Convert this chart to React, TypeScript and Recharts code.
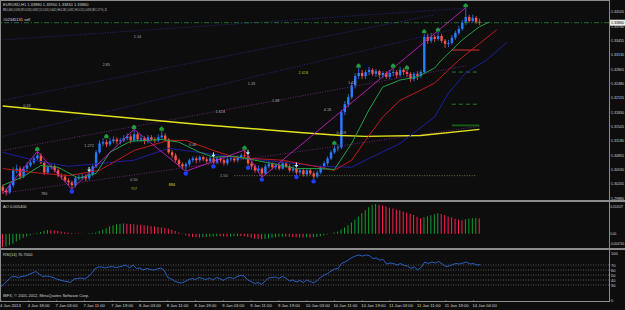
import React from 'react';
import { ComposedChart, Bar, Line, XAxis, YAxis, ReferenceLine, ReferenceDot, Cell } from 'recharts';

// ---------- data ----------
const FIRST_OPEN = 1.3014;
const CLOSE = [
  1.3005, 1.3001, 1.3017, 1.3051, 1.3055, 1.3037, 1.3055, 1.3062, 1.3069, 1.3078,
  1.3085, 1.3069, 1.3046, 1.3058, 1.3060, 1.3051, 1.3039, 1.3037, 1.3028, 1.3024,
  1.3017, 1.3033, 1.3035, 1.3037, 1.3033, 1.3042, 1.3060, 1.3092, 1.3112, 1.3115,
  1.3110, 1.3117, 1.3121, 1.3117, 1.3119, 1.3124, 1.3128, 1.3119, 1.3133, 1.3121,
  1.3124, 1.3117, 1.3126, 1.3121, 1.3119, 1.3126, 1.3130, 1.3121, 1.3092, 1.3085,
  1.3074, 1.3065, 1.3060, 1.3065, 1.3074, 1.3078, 1.3074, 1.3081, 1.3076, 1.3072,
  1.3078, 1.3069, 1.3078, 1.3074, 1.3067, 1.3076, 1.3078, 1.3074, 1.3081, 1.3085,
  1.3083, 1.3067, 1.3060, 1.3051, 1.3055, 1.3044, 1.3060, 1.3065, 1.3058, 1.3062,
  1.3055, 1.3067, 1.3060, 1.3051, 1.3055, 1.3046, 1.3051, 1.3042, 1.3051, 1.3044,
  1.3037, 1.3046, 1.3058, 1.3067, 1.3078, 1.3092, 1.3101, 1.3103, 1.3183, 1.3201,
  1.3217, 1.3244, 1.3265, 1.3272, 1.3265, 1.3274, 1.3279, 1.3270, 1.3276, 1.3267,
  1.3272, 1.3263, 1.3272, 1.3274, 1.3267, 1.3279, 1.3274, 1.3270, 1.3258, 1.3270,
  1.3265, 1.3274, 1.3354, 1.3345, 1.3354, 1.3349, 1.3356, 1.3345, 1.3338, 1.3340,
  1.3352, 1.3363, 1.3372, 1.3386, 1.3399, 1.3390, 1.3397, 1.3388, 1.3386,
];
const HIGH = [
  1.3019, 1.3010, 1.3021, 1.3058, 1.3064, 1.3060, 1.3060, 1.3069, 1.3074, 1.3083,
  1.3094, 1.3090, 1.3072, 1.3063, 1.3067, 1.3065, 1.3056, 1.3044, 1.3042, 1.3033,
  1.3028, 1.3037, 1.3042, 1.3044, 1.3042, 1.3049, 1.3065, 1.3097, 1.3119, 1.3124,
  1.3121, 1.3124, 1.3128, 1.3126, 1.3124, 1.3131, 1.3135, 1.3133, 1.3144, 1.3137,
  1.3131, 1.3128, 1.3131, 1.3131, 1.3126, 1.3133, 1.3140, 1.3135, 1.3124, 1.3097,
  1.3090, 1.3078, 1.3069, 1.3069, 1.3078, 1.3083, 1.3083, 1.3085, 1.3085, 1.3081,
  1.3083, 1.3081, 1.3083, 1.3081, 1.3078, 1.3081, 1.3083, 1.3083, 1.3085, 1.3090,
  1.3097, 1.3088, 1.3072, 1.3065, 1.3062, 1.3058, 1.3065, 1.3072, 1.3069, 1.3067,
  1.3067, 1.3072, 1.3072, 1.3065, 1.3062, 1.3058, 1.3056, 1.3056, 1.3056, 1.3055,
  1.3049, 1.3051, 1.3062, 1.3072, 1.3083, 1.3097, 1.3108, 1.3110, 1.3188, 1.3208,
  1.3224, 1.3251, 1.3272, 1.3283, 1.3279, 1.3279, 1.3286, 1.3283, 1.3281, 1.3279,
  1.3276, 1.3276, 1.3279, 1.3283, 1.3279, 1.3286, 1.3283, 1.3279, 1.3274, 1.3274,
  1.3276, 1.3279, 1.3361, 1.3361, 1.3363, 1.3358, 1.3365, 1.3361, 1.3349, 1.3347,
  1.3358, 1.3368, 1.3379, 1.3392, 1.3420, 1.3404, 1.3404, 1.3401, 1.3395,
];
const LOW = [
  1.2998, 1.2994, 1.2997, 1.3012, 1.3044, 1.3030, 1.3033, 1.3049, 1.3058, 1.3065,
  1.3074, 1.3065, 1.3040, 1.3042, 1.3053, 1.3046, 1.3035, 1.3030, 1.3024, 1.3017,
  1.3008, 1.3012, 1.3028, 1.3030, 1.3026, 1.3028, 1.3037, 1.3056, 1.3088, 1.3106,
  1.3104, 1.3106, 1.3112, 1.3110, 1.3110, 1.3115, 1.3119, 1.3112, 1.3115, 1.3117,
  1.3115, 1.3110, 1.3112, 1.3117, 1.3112, 1.3115, 1.3121, 1.3117, 1.3088, 1.3078,
  1.3069, 1.3058, 1.3053, 1.3049, 1.3060, 1.3069, 1.3067, 1.3069, 1.3072, 1.3067,
  1.3067, 1.3065, 1.3065, 1.3069, 1.3062, 1.3062, 1.3072, 1.3069, 1.3069, 1.3076,
  1.3078, 1.3062, 1.3053, 1.3046, 1.3046, 1.3035, 1.3040, 1.3056, 1.3053, 1.3053,
  1.3051, 1.3053, 1.3056, 1.3046, 1.3046, 1.3040, 1.3042, 1.3037, 1.3037, 1.3040,
  1.3031, 1.3033, 1.3042, 1.3053, 1.3062, 1.3074, 1.3088, 1.3094, 1.3099, 1.3176,
  1.3194, 1.3212, 1.3237, 1.3258, 1.3258, 1.3258, 1.3267, 1.3265, 1.3263, 1.3260,
  1.3260, 1.3258, 1.3258, 1.3265, 1.3260, 1.3263, 1.3267, 1.3263, 1.3251, 1.3253,
  1.3256, 1.3260, 1.3270, 1.3338, 1.3340, 1.3342, 1.3345, 1.3340, 1.3329, 1.3331,
  1.3336, 1.3347, 1.3358, 1.3368, 1.3381, 1.3386, 1.3386, 1.3383, 1.3381,
];
const AO = [
  -0.0047, -0.0046, -0.0041, -0.0036, -0.0028, -0.0021, -0.0015, -0.0010, -0.0006, -0.0002,
  0.0002, 0.0006, 0.0010, 0.0013, 0.0012, 0.0011, 0.0009, 0.0007, 0.0005, 0.0004,
  0.0002, 0.0001, 0.0001, -0.0001, 0.0000, 0.0001, 0.0002, 0.0004, 0.0009, 0.0014,
  0.0019, 0.0025, 0.0030, 0.0033, 0.0035, 0.0036, 0.0035, 0.0034, 0.0033, 0.0032,
  0.0031, 0.0030, 0.0029, 0.0027, 0.0025, 0.0024, 0.0022, 0.0021, 0.0018, 0.0014,
  0.0009, 0.0004, -0.0002, -0.0006, -0.0010, -0.0012, -0.0013, -0.0014, -0.0013, -0.0012,
  -0.0011, -0.0010, -0.0009, -0.0009, -0.0010, -0.0011, -0.0010, -0.0009, -0.0008, -0.0008,
  -0.0009, -0.0012, -0.0015, -0.0018, -0.0019, -0.0020, -0.0019, -0.0017, -0.0015, -0.0013,
  -0.0011, -0.0010, -0.0010, -0.0011, -0.0012, -0.0013, -0.0014, -0.0014, -0.0013, -0.0014,
  -0.0013, -0.0012, -0.0009, -0.0006, -0.0003, 0.0000, 0.0004, 0.0008, 0.0015, 0.0022,
  0.0030, 0.0040, 0.0050, 0.0061, 0.0072, 0.0083, 0.0094, 0.0103, 0.0105, 0.0102,
  0.0099, 0.0096, 0.0092, 0.0089, 0.0086, 0.0083, 0.0079, 0.0075, 0.0071, 0.0066,
  0.0060, 0.0055, 0.0058, 0.0062, 0.0065, 0.0069, 0.0072, 0.0070, 0.0066, 0.0061,
  0.0057, 0.0053, 0.0050, 0.0048, 0.0051, 0.0054, 0.0055, 0.0056, 0.0054,
];
const RSI = [
  27, 33, 40, 46, 47, 45, 47, 48, 51, 54,
  57, 52, 47, 48, 47, 45, 42, 40, 38, 37,
  35, 42, 43, 44, 42, 46, 53, 62, 66, 66,
  64, 66, 67, 65, 66, 68, 70, 64, 70, 63,
  64, 60, 63, 61, 60, 62, 64, 59, 45, 42,
  38, 35, 34, 37, 41, 43, 41, 45, 43, 41,
  44, 40, 45, 43, 39, 44, 45, 43, 47, 49,
  48, 40, 37, 33, 35, 31, 38, 44, 45, 46,
  43, 47, 44, 38, 40, 36, 39, 35, 40, 37,
  34, 39, 45, 50, 53, 58, 62, 63, 73, 76,
  80, 85, 88, 90, 88, 90, 89, 83, 84, 80,
  81, 72, 74, 73, 70, 73, 69, 68, 63, 66,
  60, 66, 76, 73, 76, 74, 77, 72, 67, 68,
  71, 73, 72, 74, 76, 72, 73, 70, 70.7,
];
const X_LABELS = [
  '4 Jan 2013', '4 Jan 18:00', '7 Jan 03:00', '7 Jan 11:00', '7 Jan 19:00', '8 Jan 03:00',
  '8 Jan 11:00', '8 Jan 19:00', '9 Jan 03:00', '9 Jan 11:00', '9 Jan 19:00', '10 Jan 03:00',
  '10 Jan 11:00', '10 Jan 19:00', '11 Jan 03:00', '11 Jan 11:00', '11 Jan 19:00', '14 Jan 04:00',
];
const PRICE_TICKS = [
  1.34105, 1.3378, 1.33455, 1.3313, 1.32805, 1.3248, 1.32155,
  1.3183, 1.31505, 1.3118, 1.30855, 1.3053, 1.30205, 1.2988,
];
const AO_TICKS = [0.010527, 0, -0.00474];
const RSI_TICKS = [100, 70, 60, 50, 40, 30, 0];
const RSI_LEVELS = [70, 60, 50, 40, 30];

// indicator readings: [bar, price]
const LIPS = [[0, 1.3017], [6, 1.3037], [11, 1.3062], [16, 1.3058], [22, 1.3033], [27, 1.3044], [31, 1.3092], [37, 1.3117], [46, 1.3121], [51, 1.3115], [57, 1.3092], [61, 1.3081], [67, 1.3083], [73, 1.3074], [79, 1.3065], [85, 1.3055], [92, 1.3055], [96, 1.3053], [101, 1.3112], [106, 1.3188], [110, 1.324], [115, 1.3256], [120, 1.3263], [125, 1.3283], [127, 1.3301], [133, 1.3347], [138, 1.3377], [141, 1.3388]];
const TEETH = [[0, 1.3055], [9, 1.3046], [19, 1.3039], [28, 1.3051], [38, 1.3096], [48, 1.3119], [53, 1.3119], [61, 1.3096], [67, 1.3081], [72, 1.3078], [81, 1.3074], [92, 1.3058], [96, 1.3051], [101, 1.3074], [105, 1.3119], [110, 1.3172], [115, 1.321], [120, 1.3229], [125, 1.3249], [132, 1.3301], [143, 1.337]];
const JAW = [[0, 1.3092], [9, 1.3074], [19, 1.306], [38, 1.3074], [48, 1.3101], [67, 1.3081], [92, 1.306], [101, 1.3058], [105, 1.3074], [115, 1.3112], [125, 1.3172], [129, 1.3226], [134, 1.3272], [140, 1.3301], [146, 1.3342]];
const MA_SLOW = [[0, 1.3197], [28, 1.3176], [57, 1.3155], [86, 1.3137], [98, 1.313], [105, 1.3128], [121, 1.313], [138, 1.3144]];
const ZIGZAG = [[0, 1.2998], [10, 1.3094], [20, 1.3008], [38, 1.3144], [53, 1.3049], [70, 1.3097], [75, 1.3035], [134, 1.342]];
const FANS = [
  { from: [0, 1.3347], to: [134, 1.3419], kind: 'navy' },
  { from: [0, 1.3128], to: [130, 1.337], kind: 'navy' },
  { from: [0, 1.321], to: [125, 1.3404], kind: 'navy' },
  { from: [0, 1.3096], to: [134, 1.3288], kind: 'purple' },
  { from: [0, 1.2999], to: [138, 1.3151], kind: 'purple' },
  { from: [67, 1.3039], to: [137, 1.3039], kind: 'olive' },
];
const LEVELS = [
  { price: 1.3324, kind: 'red' },
  { price: 1.3274, kind: 'greenDash' },
  { price: 1.3201, kind: 'greenDash' },
  { price: 1.3153, kind: 'greenSolid' },
];
const LEVEL_SPAN = [130, 138];
const UP_MARKS = [[10, 1.3099], [30, 1.3128], [38, 1.3149], [46, 1.3145], [70, 1.3102], [96, 1.3113], [103, 1.3288], [113, 1.3288], [117, 1.3284], [122, 1.3366], [126, 1.337], [134, 1.3425]];
const DOWN_ARROWS = [[25, 1.3052], [61, 1.3085], [71, 1.3091], [85, 1.3062]];
const LOW_DOTS = [[20, 1.3003], [53, 1.3044], [61, 1.306], [71, 1.3057], [75, 1.303], [85, 1.3036], [90, 1.3026]];
const FIB_LABELS: [number, number, string][] = [
  [39, 1.3354, '1.14'], [30, 1.3292, '2.85'], [87, 1.3272, '2.618'], [72, 1.3247, '1.33'],
  [79, 1.321, '1.38'], [63, 1.3185, '1.618'], [7, 1.3199, '0.33'], [25, 1.3108, '1.272'],
  [55, 1.311, '0.46'], [38, 1.303, '0.50'], [64, 1.3039, '1.50'], [12, 1.2999, '786'],
  [38, 1.301, '707'], [49, 1.3019, '884'], [101, 1.3249, '1.41'], [94, 1.3188, '4.18'], [98, 1.3137, '0.618'],
];

// ---------- styles ----------
const SLOTS = 176;
const W = 625;
const BG = '#0d0d0d';
const FRAME = '#8c8c8c';
const TXT = '#d4d4d4';
const FONT = 'Liberation Sans, Arial, sans-serif';
const BULL = '#2a7cff';
const BEAR = '#ff5448';
const FIB_COLORS: Record<string, string> = { '2.618': '#b8c020', '884': '#e0d020', '707': '#a0b020' };
const FAN_STYLE: Record<string, any> = {
  navy: { stroke: '#2b2b95', dash: '1 1.5' },
  purple: { stroke: '#7a2a8a', dash: '1 1.5' },
  olive: { stroke: '#8a8a4a', dash: '1 1.5' },
};
const LEVEL_STYLE: Record<string, any> = {
  red: { stroke: '#e03030', w: 1, dash: undefined },
  greenDash: { stroke: '#2a7a2a', w: 1, dash: '4 3' },
  greenSolid: { stroke: '#145a14', w: 2, dash: undefined },
};

// ---------- rows ----------
const rows: any[] = Array.from({ length: SLOTS }, (_, i) => {
  const r: any = { i };
  if (i < CLOSE.length) {
    r.o = i === 0 ? FIRST_OPEN : CLOSE[i - 1];
    r.c = CLOSE[i];
    r.h = HIGH[i];
    r.l = LOW[i];
    r.ao = AO[i];
    r.rsi = RSI[i];
  }
  return r;
});
const put = (pts: number[][], key: string) => pts.forEach(([b, v]) => { rows[b][key] = v; });
put(LIPS, 'lips');
put(TEETH, 'teeth');
put(JAW, 'jaw');
put(MA_SLOW, 'ma');
put(ZIGZAG, 'zz');

const last = CLOSE.length - 1;

// ---------- shapes ----------
const Candle = (props: any) => {
  const { x, y, width, height, payload } = props;
  if (!payload || payload.h == null || !isFinite(y) || !isFinite(height)) return null;
  const { o, c, h, l } = payload;
  const top = Math.min(y, y + height);
  const bot = Math.max(y, y + height);
  const span = h - l || 1e-9;
  const py = (p: number) => top + ((h - p) / span) * (bot - top);
  const cx = x + width / 2;
  const col = c >= o ? BULL : BEAR;
  const bt = py(Math.max(o, c));
  const bb = py(Math.min(o, c));
  return (
    <g>
      <line x1={cx} x2={cx} y1={top} y2={bot} stroke={col} strokeWidth={0.8} />
      <rect x={cx - 1.2} y={bt} width={2.4} height={Math.max(0.8, bb - bt)} fill={col} />
    </g>
  );
};

const UpMark = (p: any) => (
  <polygon
    points={`${p.cx},${p.cy - 2.6} ${p.cx + 2.2},${p.cy - 0.6} ${p.cx + 2.2},${p.cy + 1.8} ${p.cx - 2.2},${p.cy + 1.8} ${p.cx - 2.2},${p.cy - 0.6}`}
    fill="#1f9a3c"
  />
);
const DownArrow = (p: any) => (
  <g>
    <line x1={p.cx} x2={p.cx} y1={p.cy - 3} y2={p.cy} stroke="#bff4ff" strokeWidth={1} />
    <polygon points={`${p.cx - 2},${p.cy - 0.5} ${p.cx + 2},${p.cy - 0.5} ${p.cx},${p.cy + 2}`} fill="#bff4ff" />
  </g>
);
const LowDot = (p: any) => <circle cx={p.cx} cy={p.cy} r={2.2} fill="#1f3cff" />;

const AxisText = ({ x, y, txt, fit, size }: any) => (
  <text x={x} y={y} dy={1.5} fontSize={size || 4} fill={TXT} fontFamily={FONT}
    textLength={fit} lengthAdjust={fit ? 'spacingAndGlyphs' : undefined}>{txt}</text>
);

const PriceTick = ({ x, y, payload }: any) => (
  <g>
    <line x1={x} x2={x + 1.5} y1={y} y2={y} stroke={FRAME} strokeWidth={0.6} />
    <AxisText x={x + 2} y={y} txt={payload.value.toFixed(5)} fit={13} />
  </g>
);
const AoTick = ({ x, y, payload }: any) => {
  const v = payload.value;
  const txt = v === 0 ? '0.00' : v.toFixed(6);
  const yy = Math.min(Math.max(y, 4), 41);
  return (
    <g>
      <line x1={x} x2={x + 1} y1={y} y2={y} stroke={FRAME} strokeWidth={0.6} />
      <AxisText x={x + 1.2} y={yy} txt={txt} size={3.1} />
    </g>
  );
};
const RsiTick = ({ x, y, payload }: any) => (
  <g>
    <line x1={x} x2={x + 1.5} y1={y} y2={y} stroke={FRAME} strokeWidth={0.6} />
    <AxisText x={x + 2} y={Math.max(y, 3.5)} txt={String(payload.value)} />
  </g>
);
const TimeTick = ({ x, y, payload }: any) => {
  const k = payload.value / 8;
  const txt = Number.isInteger(k) ? X_LABELS[k] : undefined;
  if (!txt) return null;
  return (
    <g>
      <line x1={x} x2={x} y1={y} y2={y + 2} stroke={FRAME} strokeWidth={0.6} />
      <text x={x - 1} y={y + 6.8} fontSize={4.2} fill={TXT} fontFamily={FONT}>{txt}</text>
    </g>
  );
};

const PriceBox = (props: any) => {
  const vb = props.viewBox || {};
  const xx = (vb.x || 0) + (vb.width || 0);
  const yy = vb.y || 0;
  return (
    <g>
      <rect x={xx + 1} y={yy - 3} width={16} height={6} fill="#ececec" />
      <text x={xx + 2} y={yy} dy={1.5} fontSize={4} fill="#000" fontFamily={FONT}
        textLength={13} lengthAdjust="spacingAndGlyphs">{CLOSE[last].toFixed(5)}</text>
    </g>
  );
};

export default function App() {
  const hdr1 = `EURUSD,H1  ${rows[last].o.toFixed(5)} ${HIGH[last].toFixed(5)} ${LOW[last].toFixed(5)} ${CLOSE[last].toFixed(5)}`;
  const hdr2 = 'MN 0.406 | 0.058 | W1 0.518 | 0.692 | D1 0.510 | 0.642 | H4 0.185 | 0.092 | H1 0.111 | 0.053 | M1 1.17 % | 11';
  return (
    <div style={{ position: 'fixed', left: 0, top: 0, width: W, height: 310, background: BG, overflow: 'hidden' }}>
      {/* main price pane */}
      <div style={{ position: 'absolute', left: 0, top: 0 }}>
        <ComposedChart width={W} height={200} data={rows} margin={{ top: 2, right: 0, bottom: 1, left: 1 }}>
          <XAxis dataKey="i" type="category" hide />
          <YAxis orientation="right" width={16} domain={[1.2986, 1.3433]} ticks={PRICE_TICKS} interval={0}
            allowDataOverflow axisLine={false} tickLine={false} tickSize={0} tickMargin={0} tick={<PriceTick />} />
          {FANS.map((f, k) => (
            <ReferenceLine key={'f' + k} segment={[{ x: f.from[0], y: f.from[1] }, { x: f.to[0], y: f.to[1] }]}
              stroke={FAN_STYLE[f.kind].stroke} strokeDasharray={FAN_STYLE[f.kind].dash} strokeWidth={0.8} ifOverflow="hidden" />
          ))}
          <ReferenceLine y={CLOSE[last]} stroke="#1f8a3a" strokeDasharray="5 2 1 2" strokeWidth={0.8} label={<PriceBox />} />
          {LEVELS.map((lv, k) => (
            <ReferenceLine key={'l' + k} segment={[{ x: LEVEL_SPAN[0], y: lv.price }, { x: LEVEL_SPAN[1], y: lv.price }]}
              stroke={LEVEL_STYLE[lv.kind].stroke} strokeWidth={LEVEL_STYLE[lv.kind].w} strokeDasharray={LEVEL_STYLE[lv.kind].dash} />
          ))}
          <Line dataKey="ma" stroke="#e2e21e" strokeWidth={1.4} dot={false} connectNulls isAnimationActive={false} />
          <Line dataKey="jaw" stroke="#1d1d9e" strokeWidth={1} dot={false} connectNulls isAnimationActive={false} />
          <Line dataKey="teeth" stroke="#c01a1a" strokeWidth={1} dot={false} connectNulls isAnimationActive={false} />
          <Line dataKey="lips" stroke="#22a04a" strokeWidth={1} dot={false} connectNulls isAnimationActive={false} />
          <Line dataKey="zz" stroke="#c020c0" strokeWidth={0.9} dot={false} connectNulls isAnimationActive={false} />
          <Bar dataKey={(d: any) => (d.h == null ? null : [d.l, d.h])} shape={<Candle />} isAnimationActive={false} />
          {UP_MARKS.map(([b, p], k) => (
            <ReferenceDot key={'u' + k} x={b} y={p} r={2} shape={UpMark} ifOverflow="visible" />
          ))}
          {LOW_DOTS.map(([b, p], k) => (
            <ReferenceDot key={'d' + k} x={b} y={p} r={2} shape={LowDot} ifOverflow="visible" />
          ))}
          {DOWN_ARROWS.map(([b, p], k) => (
            <ReferenceDot key={'a' + k} x={b} y={p} r={2} shape={DownArrow} ifOverflow="visible" />
          ))}
          {FIB_LABELS.map(([b, p, t], k) => (
            <ReferenceDot key={'t' + k} x={b} y={p} r={0} ifOverflow="visible"
              shape={(s: any) => (
                <text x={s.cx} y={s.cy} dy={1.4} textAnchor="middle" fontSize={3.8} fill={FIB_COLORS[t] || '#a8a8a8'} fontFamily={FONT}>{t}</text>
              )} />
          ))}
        </ComposedChart>
      </div>

      {/* AO pane */}
      <div style={{ position: 'absolute', left: 0, top: 202 }}>
        <ComposedChart width={W} height={47} data={rows} margin={{ top: 2, right: 0, bottom: 2, left: 1 }}>
          <XAxis dataKey="i" type="category" hide />
          <YAxis orientation="right" width={16} domain={[-0.00474, 0.010527]} ticks={AO_TICKS} interval={0}
            allowDataOverflow axisLine={false} tickLine={false} tickSize={0} tickMargin={0} tick={<AoTick />} />
          <Bar dataKey="ao" barSize={1} isAnimationActive={false}>
            {rows.map((r, i) => (
              <Cell key={i} fill={r.ao == null ? 'transparent' : i > 0 && AO[i] > AO[i - 1] ? '#10a030' : '#ff1f52'} />
            ))}
          </Bar>
        </ComposedChart>
      </div>

      {/* RSI pane */}
      <div style={{ position: 'absolute', left: 0, top: 250 }}>
        <ComposedChart width={W} height={60} data={rows} margin={{ top: 0, right: 0, bottom: 0, left: 1 }}>
          <XAxis dataKey="i" type="category" height={10} interval={7} axisLine={false} tickLine={false}
            tickSize={0} tickMargin={0} tick={<TimeTick />} />
          <YAxis orientation="right" width={16} domain={[0, 100]} ticks={RSI_TICKS} interval={0}
            allowDataOverflow axisLine={false} tickLine={false} tickSize={0} tickMargin={0} tick={<RsiTick />} />
          {RSI_LEVELS.map((v) => (
            <ReferenceLine key={v} y={v} stroke="#7a7a7a" strokeDasharray="1 1.5" strokeWidth={0.7} />
          ))}
          <Line dataKey="rsi" stroke="#2a68d6" strokeWidth={0.9} dot={false} isAnimationActive={false} />
        </ComposedChart>
      </div>

      {/* frame and texts */}
      <svg width={W} height={310} style={{ position: 'absolute', left: 0, top: 0, pointerEvents: 'none' }}>
        <line x1={0.5} x2={0.5} y1={0} y2={302} stroke={FRAME} strokeWidth={1} />
        <line x1={0} x2={610} y1={0.5} y2={0.5} stroke={FRAME} strokeWidth={1} />
        <line x1={609.5} x2={609.5} y1={0} y2={302} stroke={FRAME} strokeWidth={1} />
        <line x1={0} x2={610} y1={301.5} y2={301.5} stroke={FRAME} strokeWidth={1} />
        <line x1={0} x2={W} y1={201} y2={201} stroke={FRAME} strokeWidth={2} />
        <line x1={0} x2={W} y1={249} y2={249} stroke={FRAME} strokeWidth={2} />
        <text x={3} y={5.5} fontSize={4} fill={TXT} fontFamily={FONT}>{hdr1}</text>
        <text x={3} y={11} fontSize={3.6} fill={TXT} fontFamily={FONT} textLength={104} lengthAdjust="spacingAndGlyphs">{hdr2}</text>
        <text x={3} y={20.5} fontSize={4} fill={TXT} fontFamily={FONT}>#02345131 sell</text>
        <text x={3} y={207.5} fontSize={4} fill={TXT} fontFamily={FONT}>{`AO ${AO[last].toFixed(6)}`}</text>
        <text x={3} y={256} fontSize={4} fill={TXT} fontFamily={FONT}>{`RSI(14) ${RSI[last].toFixed(4)}`}</text>
        <text x={3} y={297} fontSize={4} fill={TXT} fontFamily={FONT}>IBFX, © 2001-2012, MetaQuotes Software Corp.</text>
      </svg>
    </div>
  );
}
